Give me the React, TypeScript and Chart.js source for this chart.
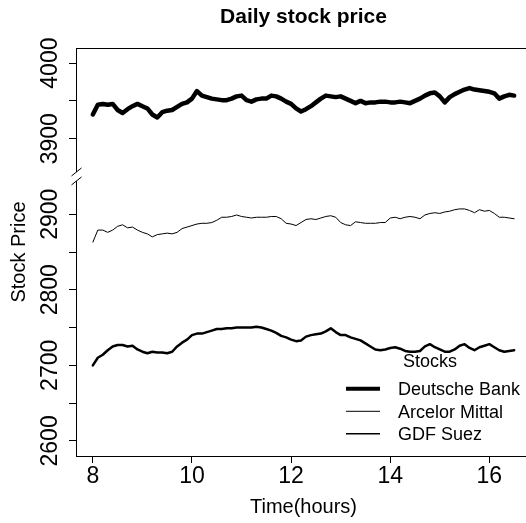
import React, { useEffect, useRef } from "react";
import { Chart, registerables } from "chart.js";

Chart.register(...registerables);

// ---- data ----
const TIMES = [
  8.0, 8.1, 8.2, 8.3, 8.4, 8.5, 8.6, 8.7, 8.8, 8.9,
  9.0, 9.1, 9.2, 9.3, 9.4, 9.5, 9.6, 9.7, 9.8, 9.9,
  10.0, 10.1, 10.2, 10.3, 10.4, 10.5, 10.6, 10.7, 10.8, 10.9,
  11.0, 11.1, 11.2, 11.3, 11.4, 11.5, 11.6, 11.7, 11.8, 11.9,
  12.0, 12.1, 12.2, 12.3, 12.4, 12.5, 12.6, 12.7, 12.8, 12.9,
  13.0, 13.1, 13.2, 13.3, 13.4, 13.5, 13.6, 13.7, 13.8, 13.9,
  14.0, 14.1, 14.2, 14.3, 14.4, 14.5, 14.6, 14.7, 14.8, 14.9,
  15.0, 15.1, 15.2, 15.3, 15.4, 15.5, 15.6, 15.7, 15.8, 15.9,
  16.0, 16.1, 16.2, 16.3, 16.4, 16.5,
];

const DEUTSCHE_BANK = [
  3932, 3945, 3946, 3945, 3946, 3938, 3934, 3939, 3943, 3946,
  3943, 3940, 3932, 3928, 3935, 3937, 3938, 3942, 3946, 3948,
  3953, 3963, 3957, 3955, 3953, 3952, 3951, 3951, 3953, 3956,
  3957, 3951, 3949, 3952, 3953, 3953, 3957, 3956, 3953, 3949,
  3946, 3940, 3936, 3939, 3943, 3948, 3953, 3957, 3956, 3955,
  3956, 3953, 3950, 3947, 3950, 3947, 3948, 3948, 3949, 3949,
  3948, 3948, 3949, 3948, 3947, 3950, 3953, 3957, 3960, 3961,
  3956, 3948, 3955, 3959, 3962, 3965, 3967, 3965, 3964, 3963,
  3962, 3960, 3953, 3956, 3958, 3957,
];

const ARCELOR_MITTAL = [
  2863, 2879, 2879, 2876, 2879, 2884, 2886, 2882, 2883, 2879,
  2876, 2874, 2870, 2873, 2874, 2875, 2874, 2876, 2881, 2883,
  2885, 2887, 2888, 2888, 2889, 2892, 2896, 2896, 2897, 2899,
  2897, 2896, 2895, 2896, 2896, 2896, 2897, 2897, 2894, 2888,
  2887, 2885, 2889, 2893, 2894, 2893, 2895, 2897, 2898, 2896,
  2889, 2886, 2885, 2890, 2889, 2888, 2888, 2888, 2889, 2889,
  2895, 2896, 2894, 2896, 2897, 2896, 2894, 2899, 2901, 2902,
  2901, 2903, 2904, 2906, 2907, 2907, 2905, 2902, 2906, 2904,
  2905, 2901, 2896, 2896, 2895, 2894,
];

const GDF_SUEZ = [
  2700, 2710, 2714, 2720, 2725, 2727, 2727, 2725, 2726, 2721,
  2718, 2716, 2718, 2717, 2717, 2716, 2718, 2725, 2730, 2734,
  2740, 2742, 2742, 2744, 2746, 2748, 2748, 2749, 2749, 2750,
  2750, 2750, 2750, 2751, 2750, 2748, 2746, 2743, 2739, 2737,
  2734, 2732, 2733, 2738, 2740, 2741, 2742, 2745, 2749, 2744,
  2740, 2740, 2737, 2735, 2733, 2729, 2725, 2721, 2720, 2721,
  2723, 2724, 2722, 2719, 2718, 2718, 2719, 2725, 2728, 2724,
  2721, 2718, 2718, 2721, 2726, 2728, 2723, 2720, 2724, 2726,
  2728, 2724, 2720, 2718, 2719, 2720,
];

const SERIES_NAMES = ["Deutsche Bank", "Arcelor Mittal", "GDF Suez"];
const LEGEND_TITLE = "Stocks";
const X_TICKS = [8, 10, 12, 14, 16];
const Y_TICKS = [2600, 2650, 2700, 2750, 2800, 2850, 2900, 3900, 3950, 4000];
const Y_LABELS = [2600, 2700, 2800, 2900, 3900, 4000];

// broken axis: values above UPPER_FLOOR are drawn BREAK_GAP lower
const BREAK_GAP = 900;
const UPPER_FLOOR = 3500;
const BREAK_AT = 2950; // axis units where the "//" marks sit
const toAxis = (v: number) => (v >= UPPER_FLOOR ? v - BREAK_GAP : v);

const FONT = "'Liberation Sans', Arial, Helvetica, sans-serif";
const LINE_WIDTHS = [4.5, 1, 2.5];
const LEGEND_LINE_WIDTHS = [4, 1, 1.5];

const decorPlugin = {
  id: "decor",
  afterDraw(chart: any) {
    const { ctx, chartArea: a, scales } = chart;
    const y = scales.y;
    ctx.save();
    // frame
    ctx.strokeStyle = "#000";
    ctx.lineWidth = 1;
    ctx.strokeRect(a.left + 0.5, a.top + 0.5, a.right - a.left, a.bottom - a.top);

    // axis break marks
    const by = y.getPixelForValue(BREAK_AT);
    const bx = a.left + 0.5;
    ctx.fillStyle = "#fff";
    ctx.beginPath();
    ctx.moveTo(bx - 5, by + 8.5);
    ctx.lineTo(bx + 5, by + 0.5);
    ctx.lineTo(bx + 5, by - 8.5);
    ctx.lineTo(bx - 5, by - 0.5);
    ctx.closePath();
    ctx.fill();
    ctx.beginPath();
    ctx.moveTo(bx - 5, by + 8.5);
    ctx.lineTo(bx + 5, by + 0.5);
    ctx.moveTo(bx - 5, by - 0.5);
    ctx.lineTo(bx + 5, by - 8.5);
    ctx.stroke();

    // y tick labels (rotated, R style)
    ctx.fillStyle = "#000";
    ctx.font = `23px ${FONT}`;
    ctx.textAlign = "center";
    ctx.textBaseline = "alphabetic";
    for (const v of Y_LABELS) {
      const py = y.getPixelForValue(toAxis(v));
      ctx.save();
      ctx.translate(a.left - 19, py);
      ctx.rotate(-Math.PI / 2);
      ctx.fillText(String(v), 0, 0);
      ctx.restore();
    }

    // title
    ctx.font = `bold 21px ${FONT}`;
    ctx.textAlign = "center";
    ctx.fillText("Daily stock price", (a.left + a.right) / 2, 22.5);

    // legend
    ctx.font = `18px ${FONT}`;
    ctx.textAlign = "left";
    ctx.fillText(LEGEND_TITLE, 403, 367.3);
    chart.data.datasets.forEach((ds: any, i: number) => {
      const base = 395 + i * 22.5;
      const mid = base - 6.2;
      ctx.strokeStyle = ds.borderColor;
      ctx.lineWidth = LEGEND_LINE_WIDTHS[i];
      ctx.beginPath();
      ctx.moveTo(346, mid);
      ctx.lineTo(380, mid);
      ctx.stroke();
      ctx.fillText(ds.label, 398, base);
    });
    ctx.restore();
  },
};

export default function App() {
  const ref = useRef<HTMLCanvasElement | null>(null);

  useEffect(() => {
    document.documentElement.style.overflow = "hidden";
    document.body.style.margin = "0";
    const canvas = ref.current;
    if (!canvas) return;
    const series = [DEUTSCHE_BANK, ARCELOR_MITTAL, GDF_SUEZ];
    const chart = new Chart(canvas, {
      type: "line",
      data: {
        datasets: series.map((vals, i) => ({
          label: SERIES_NAMES[i],
          data: TIMES.map((t, j) => ({ x: t, y: toAxis(vals[j]) })),
          borderColor: "#000",
          backgroundColor: "#000",
          borderWidth: LINE_WIDTHS[i],
          pointRadius: 0,
          tension: 0,
          borderJoinStyle: "round" as const,
          borderCapStyle: "round" as const,
        })),
      },
      options: {
        animation: false,
        responsive: false,
        devicePixelRatio: 1,
        layout: { padding: { left: 0, top: 48, right: 17, bottom: 0 } },
        plugins: {
          legend: { display: false },
          title: { display: false },
          tooltip: { enabled: false },
        },
        scales: {
          x: {
            type: "linear",
            min: 7.66,
            max: 16.84,
            afterBuildTicks: (s: any) => {
              s.ticks = X_TICKS.map((v) => ({ value: v }));
            },
            afterFit: (s: any) => {
              s.height = 67;
            },
            grid: { drawOnChartArea: false, drawTicks: true, tickLength: 7, color: "#000", lineWidth: 1 },
            border: { display: false },
            ticks: {
              font: { family: FONT, size: 23, lineHeight: 1 },
              color: "#000",
              padding: 2.5,
              maxRotation: 0,
              minRotation: 0,
              autoSkip: false,
              callback: (v: any) => String(v),
            },
            title: {
              display: true,
              text: "Time(hours)",
              color: "#000",
              font: { family: FONT, size: 20, lineHeight: 1 },
              padding: { top: 0, bottom: 6 },
            },
          },
          y: {
            type: "linear",
            min: 2580,
            max: 3120,
            afterBuildTicks: (s: any) => {
              s.ticks = Y_TICKS.map((v) => ({ value: toAxis(v) }));
            },
            afterFit: (s: any) => {
              s.width = 76;
            },
            grid: { drawOnChartArea: false, drawTicks: true, tickLength: 7, color: "#000", lineWidth: 1 },
            border: { display: false },
            ticks: { display: false },
            title: {
              display: true,
              text: "Stock Price",
              color: "#000",
              font: { family: FONT, size: 20, lineHeight: 1 },
              padding: { top: 9.5, bottom: 0 },
            },
          },
        },
      },
      plugins: [decorPlugin],
    } as any);
    return () => chart.destroy();
  }, []);

  return (
    <div style={{ width: 526, height: 523, overflow: "hidden", position: "relative" }}>
      <canvas ref={ref} width={548} height={523} style={{ display: "block" }} />
    </div>
  );
}
